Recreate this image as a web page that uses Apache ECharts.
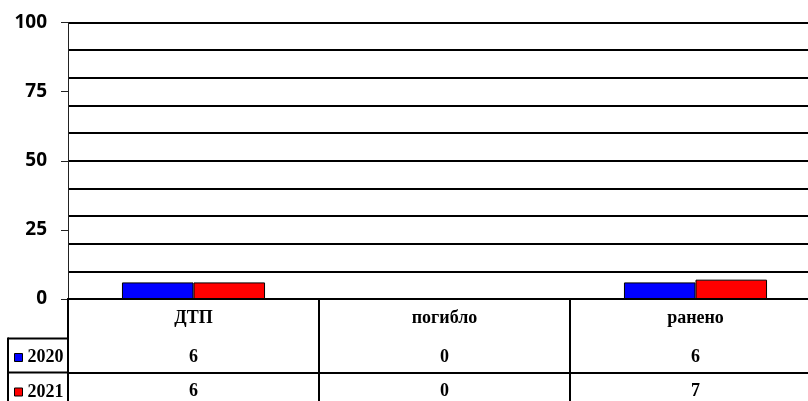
<!DOCTYPE html>
<html>
<head>
<meta charset="utf-8">
<script src="https://cdn.jsdelivr.net/npm/echarts@6/dist/echarts.min.js"></script>
<style>
html,body{margin:0;padding:0;background:#fff;overflow:hidden;}
#chart{width:840px;height:401px;}
</style>
</head>
<body>
<div id="chart"></div>
<script>
const categories = ['ДТП', 'погибло', 'ранено'];
const seriesNames = ['2020', '2021'];
const values2020 = [6, 0, 6];
const values2021 = [6, 0, 7];
const seriesColors = ['#0000FF', '#FF0000'];
const yMin = 0, yMax = 100, yLabelStep = 25, yGridStep = 10;

const serif = '"Liberation Serif", "Times New Roman", serif';
const gridLeft = 68, gridTop = 22.5, gridWidth = 753, gridHeight = 276.5;
const tableLeft = 8, rowOffsets = [39.5, 73.5];

const chart = echarts.init(document.getElementById('chart'));
const gridBottomY = gridTop + gridHeight;

function makeLegend(name, top) {
  return {
    orient: 'vertical',
    left: 14,
    top: top,
    padding: 0,
    icon: 'rect',
    itemWidth: 8,
    itemHeight: 8,
    itemStyle: { borderColor: '#000', borderWidth: 1 },
    textStyle: { fontFamily: serif, fontWeight: 'bold', fontSize: 18, color: '#000', lineHeight: 17 },
    data: [name]
  };
}

const option = {
  animation: false,
  backgroundColor: '#fff',
  grid: { left: gridLeft, top: gridTop, width: gridWidth, height: gridHeight },
  legend: [makeLegend(seriesNames[0], 348.5), makeLegend(seriesNames[1], 383)],
  xAxis: [
    {
      type: 'category', data: categories, position: 'bottom',
      axisLine: { show: true, lineStyle: { color: '#000', width: 2 } },
      axisTick: { show: true, length: 110, lineStyle: { color: '#000', width: 2 } },
      axisLabel: { margin: 19.5, verticalAlign: 'middle', fontFamily: serif, fontWeight: 'bold', fontSize: 18, color: '#000' },
      splitLine: { show: false }
    },
    {
      type: 'category', data: categories, position: 'bottom', offset: rowOffsets[0],
      axisLine: { show: true, lineStyle: { color: '#000', width: 2 } },
      axisTick: { show: false },
      axisLabel: { margin: 18.5, verticalAlign: 'middle', fontFamily: serif, fontWeight: 'bold', fontSize: 18, color: '#000',
        formatter: (v, i) => String(values2020[i]) },
      splitLine: { show: false }
    },
    {
      type: 'category', data: categories, position: 'bottom', offset: rowOffsets[1],
      axisLine: { show: true, lineStyle: { color: '#000', width: 2 } },
      axisTick: { show: false },
      axisLabel: { margin: 18.5, verticalAlign: 'middle', fontFamily: serif, fontWeight: 'bold', fontSize: 18, color: '#000',
        formatter: (v, i) => String(values2021[i]) },
      splitLine: { show: false }
    }
  ],
  yAxis: [
    {
      type: 'value', min: yMin, max: yMax, interval: yLabelStep,
      axisLine: { show: true, lineStyle: { color: '#222', width: 1 } },
      axisTick: { show: true, length: 7, lineStyle: { color: '#222', width: 1 } },
      axisLabel: { margin: 21, fontFamily: '"Open Sans", sans-serif', fontWeight: 'bold', fontSize: 19, color: '#000' },
      splitLine: { show: false }
    },
    {
      type: 'value', min: yMin, max: yMax, interval: yGridStep, position: 'left',
      axisLine: { show: false }, axisTick: { show: false }, axisLabel: { show: false },
      splitLine: { show: true, lineStyle: { color: '#000', width: 2 } }
    }
  ],
  series: [
    {
      name: seriesNames[0], type: 'bar', data: values2020, xAxisIndex: 0, yAxisIndex: 0,
      barGap: '0%', barCategoryGap: '43%',
      itemStyle: { color: seriesColors[0], borderColor: '#000', borderWidth: 1 }
    },
    {
      name: seriesNames[1], type: 'bar', data: values2021, xAxisIndex: 0, yAxisIndex: 0,
      barGap: '0%', barCategoryGap: '43%',
      itemStyle: { color: seriesColors[1], borderColor: '#000', borderWidth: 1 }
    }
  ],
  graphic: [
    { type: 'line', shape: { x1: tableLeft, y1: gridBottomY + rowOffsets[0], x2: gridLeft, y2: gridBottomY + rowOffsets[0] }, style: { stroke: '#000', lineWidth: 2 } },
    { type: 'line', shape: { x1: tableLeft, y1: gridBottomY + rowOffsets[1], x2: gridLeft, y2: gridBottomY + rowOffsets[1] }, style: { stroke: '#000', lineWidth: 2 } },
    { type: 'line', shape: { x1: tableLeft, y1: gridBottomY + rowOffsets[0] - 1, x2: tableLeft, y2: 420 }, style: { stroke: '#000', lineWidth: 2 } }
  ]
};
chart.setOption(option);
</script>
</body>
</html>
